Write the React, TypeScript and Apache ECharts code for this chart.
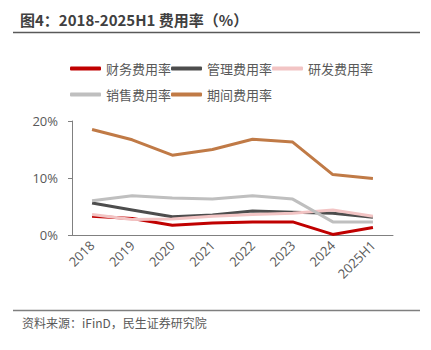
import React, { useEffect, useRef } from "react";
import * as echarts from "echarts";

const categories = ["2018", "2019", "2020", "2021", "2022", "2023", "2024", "2025H1"];
const financeRate = [3.3, 2.9, 1.7, 2.1, 2.3, 2.3, 0.1, 1.3];
const adminRate = [5.6, 4.4, 3.2, 3.5, 4.2, 4.0, 3.8, 3.1];
const rdRate = [3.6, 2.7, 2.8, 3.3, 3.6, 3.8, 4.4, 3.3];
const salesRate = [6.0, 6.9, 6.5, 6.3, 6.9, 6.3, 2.3, 2.3];
const periodRate = [18.5, 16.7, 14.0, 15.0, 16.8, 16.3, 10.6, 9.9];
const yTicks = [0, 10, 20];

const FONT = "'Noto Sans CJK SC', 'Noto Sans', sans-serif";

export default function App() {
  const ref = useRef<HTMLDivElement>(null);
  useEffect(() => {
    const chart = echarts.init(ref.current!, undefined, { renderer: "svg" });
    const mk = (name: string, data: number[], color: string) => ({
      name,
      type: "line",
      data,
      symbol: "none",
      lineStyle: { color, width: 3 },
      itemStyle: { color },
    });
    const legendCommon = {
      left: 65,
      icon: "roundRect",
      itemWidth: 31,
      itemHeight: 4,
      itemGap: 0,
      textStyle: { fontSize: 13, color: "#595959", fontFamily: FONT },
    };
    chart.setOption({
      animation: false,
      textStyle: { fontFamily: FONT },
      graphic: [
        {
          type: "text",
          left: 20,
          top: 12,
          style: {
            text: "图4：2018-2025H1 费用率（%）",
            font: `bold 15px ${FONT}`,
            fill: "#404040",
          },
        },
        {
          type: "line",
          shape: { x1: 13, y1: 32.5, x2: 420, y2: 32.5 },
          style: { stroke: "#595959", lineWidth: 1.5 },
        },
        {
          type: "line",
          shape: { x1: 13, y1: 310.5, x2: 420, y2: 310.5 },
          style: { stroke: "#7f7f7f", lineWidth: 1.5 },
        },
        {
          type: "text",
          left: 22,
          top: 316,
          style: {
            text: "资料来源：iFinD，民生证券研究院",
            font: `12px ${FONT}`,
            fill: "#595959",
          },
        },
      ],
      legend: [
        { ...legendCommon, top: 57, data: ["财务费用率", "管理费用率", "研发费用率"] },
        { ...legendCommon, top: 83, data: ["销售费用率", "期间费用率"] },
      ],
      grid: { left: 72, right: 38, top: 121, bottom: 115 },
      xAxis: {
        type: "category",
        data: categories,
        boundaryGap: true,
        axisLine: { lineStyle: { color: "#808080", width: 1 } },
        axisTick: { show: false },
        axisLabel: { rotate: 45, fontSize: 13, color: "#595959", margin: 8, interval: 0, fontFamily: "'Open Sans', sans-serif" },
      },
      yAxis: {
        type: "value",
        min: yTicks[0],
        max: yTicks[yTicks.length - 1],
        interval: 10,
        splitLine: { show: false },
        axisLine: { show: true, lineStyle: { color: "#808080", width: 1 } },
        axisTick: { show: true, length: 4, lineStyle: { color: "#808080" } },
        axisLabel: { fontSize: 13, color: "#595959", margin: 14, formatter: "{value}%", fontFamily: "'Open Sans', sans-serif" },
      },
      series: [
        mk("财务费用率", financeRate, "#C00000"),
        mk("管理费用率", adminRate, "#4D4D4D"),
        mk("研发费用率", rdRate, "#F2C4C4"),
        mk("销售费用率", salesRate, "#BFBFBF"),
        mk("期间费用率", periodRate, "#C07A46"),
      ],
    });
    return () => chart.dispose();
  }, []);
  return <div ref={ref} style={{ width: 431, height: 350, position: "absolute", left: 0, top: 0 }} />;
}
